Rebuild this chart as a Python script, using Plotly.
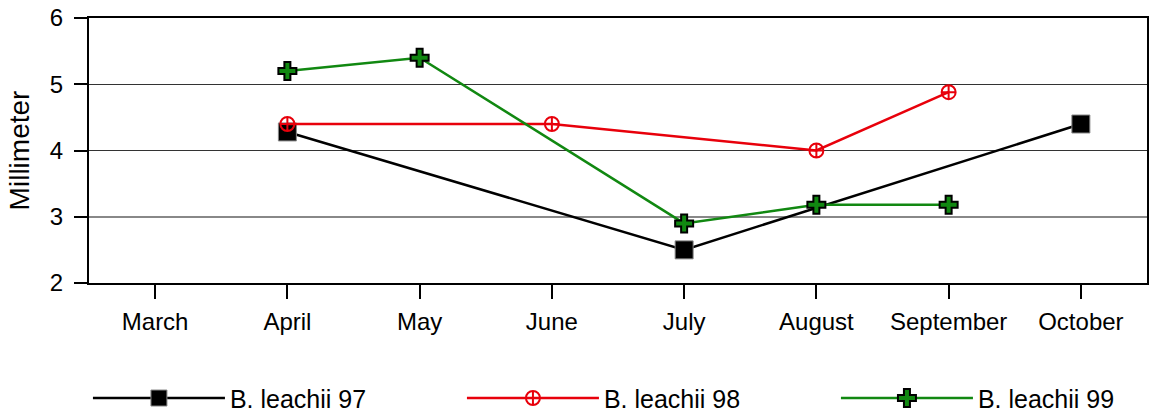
import plotly.graph_objects as go

months = ["March", "April", "May", "June", "July", "August", "September", "October"]

x97 = ["April", "July", "October"]
y97 = [4.28, 2.5, 4.4]

x98 = ["April", "June", "August", "September"]
y98 = [4.4, 4.4, 4.0, 4.88]

x99 = ["April", "May", "July", "August", "September"]
y99 = [5.2, 5.4, 2.9, 3.18, 3.18]

yticks = [2, 3, 4, 5, 6]
dark_grid = [4, 5]
light_grid = [3]

fig = go.Figure()
fig.add_trace(go.Scatter(
    x=x97, y=y97, mode="lines+markers", name="B. leachii 97",
    line=dict(color="black", width=2.5),
    marker=dict(symbol="square", size=18, color="black", line=dict(color="#888", width=1)),
))
fig.add_trace(go.Scatter(
    x=x98, y=y98, mode="lines+markers", name="B. leachii 98",
    line=dict(color="#e8000b", width=2.5),
    marker=dict(symbol="circle-cross-open", size=14, color="#e8000b", line=dict(color="#e8000b", width=2)),
))
fig.add_trace(go.Scatter(
    x=x99, y=y99, mode="lines+markers", name="B. leachii 99",
    line=dict(color="#118811", width=2.5),
    marker=dict(symbol="cross", size=15, color="#118811", line=dict(color="black", width=2)),
))

fig.update_layout(
    width=1150, height=413,
    margin=dict(l=89, r=3, t=18, b=130, autoexpand=False),
    paper_bgcolor="white", plot_bgcolor="white",
    font=dict(family="Liberation Sans, Arial, sans-serif", size=24, color="black"),
    showlegend=True,
    legend=dict(
        orientation="h", x=-0.001, xanchor="left", y=-0.435, yanchor="middle",
        entrywidth=227, entrywidthmode="pixels",
        font=dict(size=25), itemwidth=132, tracegroupgap=0,
    ),
    xaxis=dict(
        type="category", categoryorder="array", categoryarray=months,
        range=[-0.5, 7.5], showgrid=False, zeroline=False, automargin=False,
        showline=True, linecolor="black", linewidth=2, mirror=True,
        ticks="outside", ticklen=14, tickwidth=2, tickcolor="black",
        ticklabelstandoff=2,
    ),
    yaxis=dict(
        range=[2, 6], tickvals=yticks, showgrid=False,
        zeroline=False, showline=True, linecolor="black", linewidth=2, mirror=True,
        ticks="outside", ticklen=13, tickwidth=2, tickcolor="black",
        ticklabelstandoff=6, automargin=False,
        title=dict(text="Millimeter", standoff=12, font=dict(size=28)),
    ),
    yaxis2=dict(
        range=[2, 6], tickvals=dark_grid, showgrid=True, gridcolor="#333", gridwidth=1,
        showticklabels=False, ticks="", zeroline=False, showline=False,
        overlaying="y", layer="below traces", automargin=False,
    ),
    yaxis3=dict(
        range=[2, 6], tickvals=light_grid, showgrid=True, gridcolor="#888", gridwidth=1.5,
        showticklabels=False, ticks="", zeroline=False, showline=False,
        overlaying="y", layer="below traces", automargin=False,
    ),
)

# invisible helper traces so the overlay grid axes are drawn
fig.add_trace(go.Scatter(x=[months[0]], y=[None], yaxis="y2", showlegend=False, hoverinfo="skip"))
fig.add_trace(go.Scatter(x=[months[0]], y=[None], yaxis="y3", showlegend=False, hoverinfo="skip"))

fig.write_html(
    "out.html",
    config={"displayModeBar": False},
    post_script="document.body.style.margin='0';document.body.style.overflow='hidden';",
)
